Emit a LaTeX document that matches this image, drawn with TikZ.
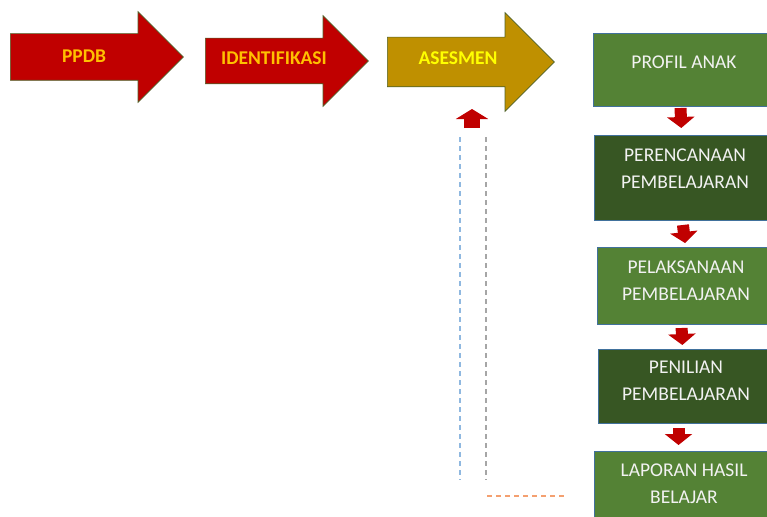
\documentclass[tikz,border=0pt]{standalone}
\usepackage{fontspec}
\setmainfont{Carlito}
\usepackage{tikz}
\usetikzlibrary{shapes.arrows,arrows.meta}
\definecolor{stagered}{HTML}{C00000}
\definecolor{stagegold}{HTML}{BF9000}
\definecolor{stageedge}{HTML}{4F6228}
\definecolor{labelorange}{HTML}{FFC000}
\definecolor{labelyellow}{HTML}{FFFF00}
\definecolor{midgreen}{HTML}{548235}
\definecolor{deepgreen}{HTML}{375623}
\definecolor{boxedge}{HTML}{41719C}
\definecolor{boxlabel}{HTML}{F2F2F2}
\definecolor{fbblue}{HTML}{8FB8E0}
\definecolor{fbgray}{HTML}{A6A6A6}
\definecolor{fborange}{HTML}{F4A070}

\begin{document}
\begin{tikzpicture}[x=1pt,y=-1pt,
  stagearrow/.style={single arrow,draw=stageedge,line width=0.7pt,single arrow tip angle=90,
    inner xsep=0pt,anchor=tail},
  stagetext/.style={font=\fontsize{19.5}{23}\selectfont\bfseries},
  stepbox/.style={draw=boxedge,line width=1pt,anchor=north west,inner sep=0pt,minimum width=182pt},
  boxtext/.style={text=boxlabel,align=center,font=\fontsize{19.5}{27}\selectfont},
  flowarrow/.style={draw=stagered,line width=12pt,-{Triangle[width=27pt,length=11pt]}},
  fbline/.style={line width=1.2pt,dash pattern=on 5pt off 4pt}]
  \useasboundingbox (0,0) rectangle (767,516);
  \fill[white] (0,0) rectangle (767,516);
  \clip (0,0) rectangle (767,516);

  % stages along the top
  \node[stagearrow,fill=stagered,minimum height=173pt,inner ysep=23pt,single arrow head extend=22pt] (ppdb) at (10,57) {};
  \node[stagearrow,fill=stagered,minimum height=163pt,inner ysep=22.5pt,single arrow head extend=22.5pt] (ident) at (205,61) {};
  \node[stagearrow,fill=stagegold,minimum height=167pt,inner ysep=24.5pt,single arrow head extend=24.5pt] (asesmen) at (387,62) {};
  \node[stagetext,text=labelorange] (ppdbtxt) at (84,56) {PPDB};
  \node[stagetext,text=labelorange] (identtxt) at (274,58) {IDENTIFIKASI};
  \node[stagetext,text=labelyellow] (asesmentxt) at (458,58) {ASESMEN};

  % column of boxes
  \node[stepbox,fill=midgreen,minimum height=73pt] (profil) at (593,33) {};
  \node[stepbox,fill=deepgreen,minimum height=85pt] (perenc) at (594,135) {};
  \node[stepbox,fill=midgreen,minimum height=77pt] (pelak) at (597,247) {};
  \node[stepbox,fill=deepgreen,minimum height=74pt] (penil) at (598,349) {};
  \node[stepbox,fill=midgreen,minimum height=90pt] (lapor) at (594,451) {};
  \node[boxtext] (profiltxt) at (684,62) {PROFIL ANAK};
  \node[boxtext] (perenctxt) at (685,169) {PERENCANAAN\\PEMBELAJARAN};
  \node[boxtext] (pelaktxt) at (686,281) {PELAKSANAAN\\PEMBELAJARAN};
  \node[boxtext] (peniltxt) at (686,381) {PENILIAN\\PEMBELAJARAN};
  \node[boxtext] (laportxt) at (684,484) {LAPORAN HASIL\\BELAJAR};

  \draw[flowarrow,shorten <=1pt,shorten >=7pt] ([xshift=-4pt]profil.south) -- ([xshift=-4pt]perenc.north);
  \draw[flowarrow,shorten <=4pt,shorten >=4pt] ([xshift=-3pt]perenc.south) -- ([xshift=-3pt]pelak.north);
  \draw[flowarrow,shorten <=3pt,shorten >=4pt] ([xshift=-7pt]pelak.south) -- ([xshift=-7pt]penil.north);
  \draw[flowarrow,shorten <=4pt,shorten >=6pt] ([xshift=-11pt]penil.south) -- ([xshift=-7pt]lapor.north);

  % feedback back to asesmen
  \coordinate (fbbase) at (472,128);
  \coordinate (fbtip) at (472,109);
  \draw[flowarrow,line width=16pt,-{Triangle[width=32pt,length=10pt]}] (fbbase) -- (fbtip);
  \coordinate (bluetop) at (460,137);
  \coordinate (bluebot) at (460,480);
  \coordinate (graytop) at (486,137);
  \coordinate (graybot) at (486,480);
  \coordinate (orleft) at (487,496);
  \coordinate (orright) at (566,496);
  \draw[fbline,fbblue] (bluetop) -- (bluebot);
  \draw[fbline,fbgray] (graytop) -- (graybot);
  \draw[fbline,fborange] (orleft) -- (orright);
\end{tikzpicture}
\end{document}
